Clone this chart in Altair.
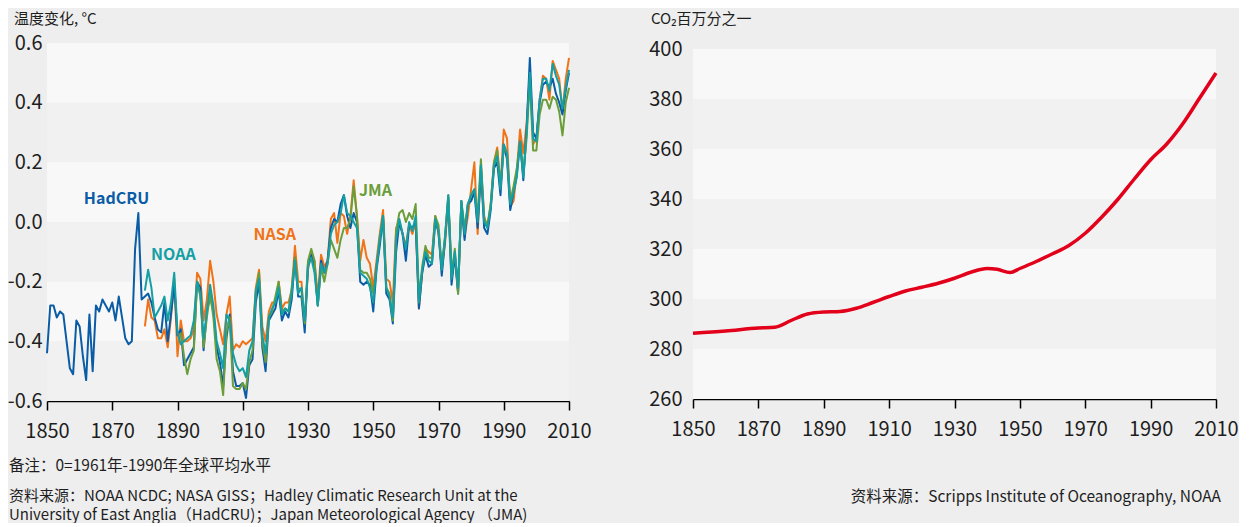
import altair as alt
import pandas as pd

# ---------------- data ----------------
had_years = list(range(1850, 2011))
hadcru = [
    -0.44, -0.28, -0.28, -0.32, -0.30, -0.31, -0.40, -0.49, -0.51, -0.33,
    -0.35, -0.45, -0.53, -0.31, -0.50, -0.28, -0.30, -0.26, -0.28, -0.30,
    -0.27, -0.33, -0.25, -0.32, -0.39, -0.41, -0.40, -0.09, 0.03, -0.26,
    -0.25, -0.24, -0.27, -0.32, -0.36, -0.37, -0.27, -0.40, -0.31, -0.21,
    -0.38, -0.36, -0.48, -0.46, -0.44, -0.42, -0.20, -0.22, -0.43, -0.30,
    -0.25, -0.30, -0.42, -0.47, -0.55, -0.39, -0.31, -0.50, -0.55, -0.55,
    -0.54, -0.59, -0.48, -0.46, -0.27, -0.20, -0.42, -0.50, -0.33, -0.31,
    -0.29, -0.23, -0.33, -0.30, -0.32, -0.26, -0.12, -0.25, -0.25, -0.37,
    -0.14, -0.11, -0.15, -0.28, -0.13, -0.17, -0.13, -0.02, 0.01, 0.00,
    0.06, 0.09, 0.02, -0.02, 0.03, 0.00, -0.20, -0.21, -0.20, -0.21,
    -0.30, -0.16, -0.08, 0.02, -0.24, -0.26, -0.34, -0.10, 0.00, -0.04,
    -0.13, -0.01, -0.02, 0.00, -0.29, -0.17, -0.11, -0.15, -0.14, 0.00,
    -0.03, -0.18, -0.06, 0.08, -0.21, -0.11, -0.24, 0.07, -0.06, 0.06,
    0.07, 0.10, -0.02, 0.17, -0.02, -0.04, 0.04, 0.18, 0.20, 0.09,
    0.26, 0.21, 0.04, 0.10, 0.16, 0.27, 0.14, 0.31, 0.55, 0.30,
    0.28, 0.40, 0.46, 0.47, 0.45, 0.48, 0.43, 0.40, 0.36, 0.44,
    0.50,
]
noaa_years = list(range(1880, 2011))
noaa = [
    -0.23, -0.16, -0.22, -0.32, -0.30, -0.28, -0.25, -0.33, -0.27, -0.17,
    -0.37, -0.41, -0.40, -0.39, -0.38, -0.33, -0.20, -0.24, -0.39, -0.30,
    -0.21, -0.28, -0.40, -0.44, -0.49, -0.31, -0.33, -0.44, -0.48, -0.50,
    -0.49, -0.52, -0.43, -0.40, -0.23, -0.19, -0.38, -0.44, -0.32, -0.29,
    -0.27, -0.22, -0.31, -0.29, -0.30, -0.24, -0.13, -0.24, -0.22, -0.33,
    -0.15, -0.12, -0.17, -0.28, -0.14, -0.17, -0.14, -0.04, -0.01, 0.00,
    0.03, 0.09, 0.03, 0.02, 0.00, -0.02, -0.17, -0.18, -0.19, -0.22,
    -0.27, -0.15, -0.06, 0.02, -0.22, -0.25, -0.32, -0.06, 0.01, -0.04,
    -0.09, 0.00, -0.03, 0.02, -0.27, -0.16, -0.10, -0.13, -0.14, 0.01,
    -0.03, -0.16, -0.05, 0.09, -0.19, -0.10, -0.22, 0.07, -0.04, 0.06,
    0.09, 0.11, 0.00, 0.19, 0.00, -0.02, 0.05, 0.19, 0.22, 0.11,
    0.26, 0.23, 0.06, 0.10, 0.15, 0.27, 0.15, 0.30, 0.50, 0.28,
    0.27, 0.41, 0.48, 0.48, 0.44, 0.53, 0.49, 0.46, 0.38, 0.45,
    0.51,
]
nasa_years = list(range(1880, 2011))
nasa = [
    -0.35, -0.26, -0.32, -0.33, -0.39, -0.39, -0.36, -0.42, -0.32, -0.19,
    -0.45, -0.33, -0.40, -0.40, -0.39, -0.36, -0.17, -0.19, -0.33, -0.26,
    -0.13, -0.20, -0.31, -0.36, -0.41, -0.31, -0.25, -0.43, -0.41, -0.42,
    -0.40, -0.41, -0.40, -0.39, -0.22, -0.16, -0.35, -0.40, -0.30, -0.27,
    -0.27, -0.20, -0.29, -0.27, -0.27, -0.23, -0.08, -0.20, -0.20, -0.35,
    -0.16, -0.10, -0.13, -0.25, -0.11, -0.15, -0.13, 0.01, 0.03, -0.07,
    0.03, 0.02, -0.04, 0.02, 0.14, 0.02, -0.13, -0.06, -0.12, -0.14,
    -0.22, -0.13, -0.04, 0.04, -0.19, -0.20, -0.27, -0.02, 0.00, -0.04,
    -0.08, -0.01, -0.04, 0.00, -0.29, -0.17, -0.09, -0.10, -0.11, 0.02,
    -0.04, -0.16, -0.07, 0.07, -0.15, -0.12, -0.23, 0.06, -0.05, 0.02,
    0.11, 0.20, -0.04, 0.19, 0.02, -0.02, 0.06, 0.20, 0.25, 0.12,
    0.31, 0.28, 0.05, 0.07, 0.17, 0.31, 0.23, 0.33, 0.50, 0.26,
    0.28, 0.41, 0.49, 0.48, 0.41, 0.54, 0.51, 0.48, 0.37, 0.48,
    0.55,
]
jma_years = list(range(1891, 2011))
jma = [
    -0.37, -0.45, -0.51, -0.46, -0.43, -0.20, -0.25, -0.42, -0.32,
    -0.24, -0.32, -0.46, -0.50, -0.58, -0.37, -0.32, -0.55, -0.56, -0.56,
    -0.54, -0.56, -0.47, -0.43, -0.24, -0.17, -0.40, -0.47, -0.32, -0.30,
    -0.25, -0.20, -0.30, -0.29, -0.30, -0.22, -0.12, -0.22, -0.23, -0.34,
    -0.13, -0.09, -0.13, -0.28, -0.15, -0.20, -0.14, -0.06, -0.09, -0.12,
    -0.06, -0.02, -0.02, 0.01, 0.12, 0.02, -0.16, -0.17, -0.17, -0.19,
    -0.24, -0.15, -0.05, 0.02, -0.22, -0.24, -0.33, -0.03, 0.03, 0.04,
    0.00, 0.03, 0.01, 0.06, -0.25, -0.15, -0.08, -0.12, -0.12, 0.02,
    -0.01, -0.15, -0.05, 0.09, -0.18, -0.09, -0.24, 0.07, -0.02, 0.06,
    0.09, 0.11, 0.02, 0.21, 0.01, -0.01, 0.06, 0.20, 0.24, 0.12,
    0.25, 0.23, 0.07, 0.12, 0.18, 0.27, 0.16, 0.28, 0.48, 0.24,
    0.24, 0.36, 0.41, 0.41, 0.38, 0.42, 0.41, 0.37, 0.29, 0.40,
    0.45,
]

series_names = ["HadCRU", "NOAA", "NASA", "JMA"]
series_colors = ["#0b5ca6", "#139fa4", "#f07318", "#6b9e3a"]
label_years = [1861.3, 1881.9, 1913.3, 1945.6]
label_values = [0.077, -0.112, -0.045, 0.104]

co2_years = [1850, 1860, 1870, 1875, 1880, 1885, 1890, 1895, 1900, 1905,
             1910, 1915, 1920, 1925, 1930, 1935, 1940, 1943, 1947, 1950,
             1955, 1960, 1965, 1970, 1975, 1980, 1985, 1990, 1995, 2000,
             2005, 2010]
co2_ppm = [286.3, 287.2, 288.4, 288.7, 291.4, 294.0, 294.8, 295.0, 296.3, 298.6,
           301.0, 303.2, 304.7, 306.3, 308.3, 310.7, 312.2, 311.9, 310.6, 312.2,
           315.0, 318.1, 321.4, 326.3, 332.7, 339.9, 348.0, 355.7, 362.1, 370.4,
           380.4, 390.4]

temp_ticks = [-0.6, -0.4, -0.2, 0.0, 0.2, 0.4, 0.6]
co2_ticks = [260, 280, 300, 320, 340, 360, 380, 400]
year_ticks = [1850, 1870, 1890, 1910, 1930, 1950, 1970, 1990, 2010]
temp_band_lo = [0.4, 0.0, -0.4]
temp_band_hi = [0.6, 0.2, -0.2]
temp_dband_lo = [0.2, -0.2, -0.6]
temp_dband_hi = [0.4, 0.0, -0.4]
co2_band_lo = [380, 340, 300, 260]
co2_band_hi = [400, 360, 320, 280]
co2_dband_lo = [360, 320, 280]
co2_dband_hi = [380, 340, 300]

temp_title = "温度变化, °C"
co2_title = "CO₂百万分之一"
note_left = "备注：0=1961年-1990年全球平均水平"
src_left_1 = "资料来源：NOAA NCDC; NASA GISS；Hadley Climatic Research Unit at the"
src_left_2 = "University of East Anglia（HadCRU)；Japan Meteorological Agency （JMA)"
src_right = "资料来源：Scripps Institute of Oceanography, NOAA"

# ---------------- style ----------------
FONT = "Noto Sans CJK SC, Noto Sans, sans-serif"
TXT = "#1e1e1e"
BG = "#eeeeee"
LIGHT = "#f8f8f8"
DARK = "#f1f1f1"
LW, LH = 522, 358
RW, RH = 523, 356
R_TOP = 6          # right plot starts a little lower than the left one


def x_axis():
    return alt.Axis(values=year_ticks, format="d", title=None, grid=False,
                    domainColor="#000000", domainWidth=1.5, tickColor="#000000",
                    tickWidth=1.5, tickSize=9, labelFontSize=20, labelFont=FONT,
                    labelColor=TXT, labelPadding=11, labelFlush=False,
                    labelOverlap=False)


def y_axis(values, pad, expr=None):
    kw = dict(values=values, title=None, grid=False, domain=False, ticks=False,
              labelFontSize=20, labelFont=FONT, labelColor=TXT, labelPadding=pad,
              labelOverlap=False)
    if expr:
        kw["labelExpr"] = expr
    return alt.Axis(**kw)


xsc = alt.Scale(domain=[1850, 2010], nice=False, zero=False)
ysc_t = alt.Scale(domain=[-0.6, 0.6], nice=False, zero=False)
ysc_c = alt.Scale(domain=[260, 400], nice=False, zero=False, range=[RH, R_TOP])
yax_t = y_axis(temp_ticks, 5,
               "datum.value < 0 ? '-' + format(-datum.value, '.1f') : format(datum.value, '.1f')")
yax_c = y_axis(co2_ticks, 11)


def txt(text, x, y, size=15, align="left", baseline="middle"):
    return alt.Chart(pd.DataFrame({"t": [text]})).mark_text(
        align=align, baseline=baseline, font=FONT, fontSize=size, color=TXT
    ).encode(x=alt.value(x), y=alt.value(y), text="t:N")


def bands(lo, hi, color, ysc, yax, w):
    return alt.Chart(pd.DataFrame({"lo": lo, "hi": hi})).mark_rect(color=color).encode(
        x=alt.value(0), x2=alt.value(w),
        y=alt.Y("lo:Q", scale=ysc, axis=yax), y2="hi:Q")


# ---------------- left: temperature ----------------
series_data = {
    "HadCRU": (had_years, hadcru),
    "NOAA": (noaa_years, noaa),
    "NASA": (nasa_years, nasa),
    "JMA": (jma_years, jma),
}
draw_order = ["NASA", "HadCRU", "JMA", "NOAA"]
lines = []
for name in draw_order:
    yrs, vals = series_data[name]
    col = series_colors[series_names.index(name)]
    lines.append(
        alt.Chart(pd.DataFrame({"year": yrs, "v": vals})).mark_line(
            color=col, strokeWidth=2, strokeJoin="round").encode(
            x=alt.X("year:Q", scale=xsc, axis=x_axis()),
            y=alt.Y("v:Q", scale=ysc_t, axis=yax_t)))

labels = alt.Chart(pd.DataFrame({"name": series_names, "year": label_years,
                                 "v": label_values, "c": series_colors})).mark_text(
    align="left", baseline="middle", font=FONT, fontSize=16, fontWeight="bold").encode(
    x=alt.X("year:Q", scale=xsc, axis=x_axis()),
    y=alt.Y("v:Q", scale=ysc_t, axis=yax_t),
    text="name:N", color=alt.Color("c:N", scale=None))

left = alt.layer(
    bands(temp_dband_lo, temp_dband_hi, DARK, ysc_t, yax_t, LW),
    bands(temp_band_lo, temp_band_hi, LIGHT, ysc_t, yax_t, LW),
    *lines, labels,
    txt(temp_title, -33, -31, 15, baseline="top"),
    txt(note_left, -38, 423, 15.5),
    txt(src_left_1, -38, 453),
    txt(src_left_2, -38, 472),
).properties(width=LW, height=LH)

# ---------------- right: CO2 ----------------
co2_line = alt.Chart(pd.DataFrame({"year": co2_years, "ppm": co2_ppm})).mark_line(
    color="#e2001a", strokeWidth=3.5, interpolate="monotone").encode(
    x=alt.X("year:Q", scale=xsc, axis=x_axis()),
    y=alt.Y("ppm:Q", scale=ysc_c, axis=yax_c))

right = alt.layer(
    bands(co2_dband_lo, co2_dband_hi, DARK, ysc_c, yax_c, RW),
    bands(co2_band_lo, co2_band_hi, LIGHT, ysc_c, yax_c, RW),
    co2_line,
    txt(co2_title, -42, -31, 15, baseline="top"),
    txt(src_right, 528, 454, 15.5, align="right"),
).properties(width=RW, height=RH)

chart = alt.hconcat(left, right, spacing=56).configure(
    background=BG,
    padding={"left": -1, "top": 4, "right": 0, "bottom": 0},
).configure_view(fill=BG, stroke=None)

chart.save("out.html", embed_options={"renderer": "svg", "actions": False})
